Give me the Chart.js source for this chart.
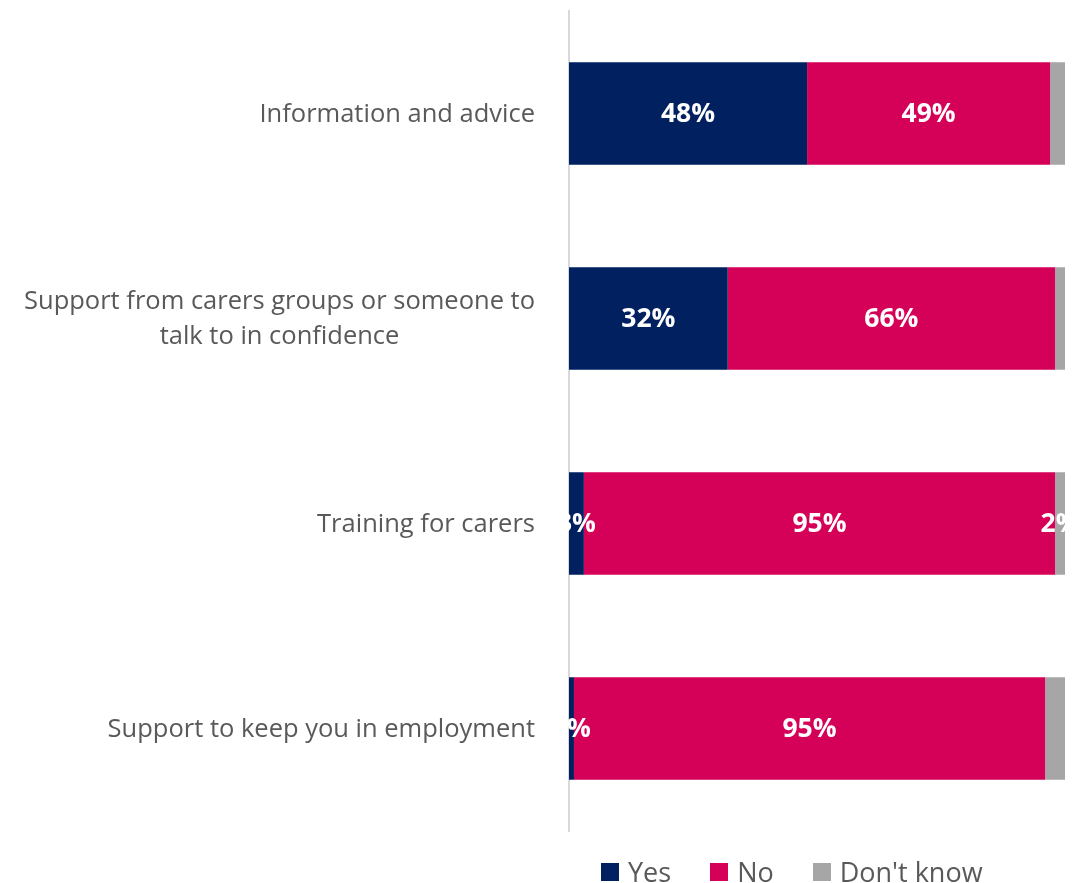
<!DOCTYPE html>
<html>
<head>
<meta charset="utf-8">
<script src="https://cdn.jsdelivr.net/npm/chart.js@4"></script>
<style>
  html, body { margin: 0; padding: 0; background: #fff; overflow: hidden; }
  #wrap { position: relative; width: 1074px; height: 883px; }
  #carersChart { display: block; }
  #legend {
    position: absolute; left: 601px; top: 858px;
    display: flex; align-items: center;
    font-family: "Open Sans", sans-serif; font-size: 27px; line-height: 28px; color: #595959;
  }
  #legend .item { display: flex; align-items: center; margin-right: 39px; }
  #legend .box { width: 18px; height: 18px; margin-right: 9px; }
</style>
</head>
<body>
<div id="wrap">
  <canvas id="carersChart" width="1074" height="883"></canvas>
  <div id="legend"></div>
</div>
<script>
// Survey answers, percent of respondents
const categories = [
    'Information and advice',
    ['Support from carers groups or someone to', 'talk to in confidence'],
    'Training for carers',
    'Support to keep you in employment'
];
const seriesNames = ['Yes', 'No', "Don't know"];
const yesValues = [48, 32, 3, 1];
const noValues = [49, 66, 95, 95];
const dontKnowValues = [3, 2, 2, 4];
const seriesColors = ['#002060', '#D50057', '#A6A6A6'];
// only the third bar carries a label on its "Don't know" segment
const showDontKnowLabel = [false, false, true, false];

// category labels: block right-aligned, lines centred inside the block
const categoryLabels = {
    id: 'categoryLabels',
    afterDraw(chart) {
        const ctx = chart.ctx;
        const yScale = chart.scales.y;
        const right = chart.chartArea.left - 34;
        const lineH = 35;
        ctx.save();
        ctx.font = '25.5px "Open Sans", sans-serif';
        ctx.fillStyle = '#595959';
        ctx.textAlign = 'center';
        ctx.textBaseline = 'middle';
        categories.forEach((label, i) => {
            const lines = Array.isArray(label) ? label : [label];
            const widest = Math.max(...lines.map(l => ctx.measureText(l).width));
            const cx = right - widest / 2;
            const cy = yScale.getPixelForTick(i) + 1;
            lines.forEach((line, j) => {
                ctx.fillText(line, cx, cy + (j - (lines.length - 1) / 2) * lineH);
            });
        });
        ctx.restore();
    }
};

// white percentage labels centred on each segment
const segmentLabels = {
    id: 'segmentLabels',
    afterDatasetsDraw(chart) {
        const ctx = chart.ctx;
        ctx.save();
        ctx.font = 'bold 26.5px "Open Sans", sans-serif';
        ctx.fillStyle = '#ffffff';
        ctx.textAlign = 'center';
        ctx.textBaseline = 'middle';
        chart.data.datasets.forEach((ds, di) => {
            const meta = chart.getDatasetMeta(di);
            meta.data.forEach((bar, i) => {
                if (di === 2 && !showDontKnowLabel[i]) return;
                const c = bar.getCenterPoint();
                ctx.fillText(ds.data[i] + '%', c.x, c.y + 1);
            });
        });
        ctx.restore();
    }
};

const chart = new Chart(document.getElementById('carersChart'), {
    type: 'bar',
    data: {
        labels: categories,
        datasets: [
            { label: seriesNames[0], data: yesValues, backgroundColor: seriesColors[0] },
            { label: seriesNames[1], data: noValues, backgroundColor: seriesColors[1] },
            { label: seriesNames[2], data: dontKnowValues, backgroundColor: seriesColors[2] }
        ]
    },
    options: {
        indexAxis: 'y',
        responsive: false,
        animation: false,
        datasets: {
            bar: { barPercentage: 0.5, categoryPercentage: 1.0, borderWidth: 0 }
        },
        layout: { padding: { top: 11, right: 9, bottom: 52, left: 0 } },
        plugins: {
            legend: { display: false },
            tooltip: { enabled: false }
        },
        scales: {
            x: {
                stacked: true,
                min: 0,
                max: 100,
                display: false
            },
            y: {
                stacked: true,
                grid: { display: false },
                border: { display: true, color: '#D9D9D9', width: 2 },
                ticks: { display: false },
                afterFit(scale) { scale.width = 569; }
            }
        }
    },
    plugins: [categoryLabels, segmentLabels]
});

// legend built from the same series
const legendEl = document.getElementById('legend');
seriesNames.forEach((name, i) => {
    const item = document.createElement('div');
    item.className = 'item';
    const box = document.createElement('span');
    box.className = 'box';
    box.style.background = seriesColors[i];
    const txt = document.createElement('span');
    txt.textContent = name;
    item.appendChild(box);
    item.appendChild(txt);
    legendEl.appendChild(item);
});
</script>
</body>
</html>
